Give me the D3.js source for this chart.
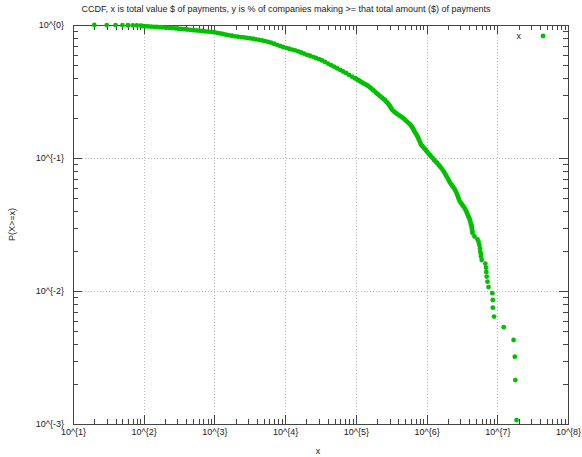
<!DOCTYPE html>
<html><head><meta charset="utf-8">
<script src="https://cdn.jsdelivr.net/npm/d3@7"></script>
<style>
body{margin:0;background:#fff}
svg{display:block}
text{font-family:"Liberation Sans",Arial,sans-serif;fill:#222}
</style>
</head><body>
<svg id="chart" width="582" height="457"></svg>
<script>
const chartTitle = "CCDF, x is total value $ of payments, y is % of companies making >= that total amount ($) of payments";
const xAxisLabel = "x";
const yAxisLabel = "P(X>=x)";
const legendLabel = "x";
const xTickValues = [1e1, 1e2, 1e3, 1e4, 1e5, 1e6, 1e7, 1e8];
const xTickLabels = ["10^{1}", "10^{2}", "10^{3}", "10^{4}", "10^{5}", "10^{6}", "10^{7}", "10^{8}"];
const yTickValues = [1e-3, 1e-2, 1e-1, 1];
const yTickLabels = ["10^{-3}", "10^{-2}", "10^{-1}", "10^{0}"];

// total payment value ($) per company
const paymentTotals = [
  20, 30, 40, 50, 60, 70, 80, 90,
  95, 104, 115, 127, 140, 154, 170, 187, 207, 228, 251, 277, 305, 337, 371, 409, 452, 498, 549, 605, 667, 736, 811, 895,
  986, 1088, 1199, 1321, 1459, 1607, 1771, 1954, 2153, 2377, 2618, 2891, 3184, 3516, 3873, 4266, 4710, 5188, 5728, 6310,
  6966, 7674, 8455, 9333, 10280, 11350, 12500, 13780, 15210, 16750, 18490, 20370, 22440, 24770, 27290, 30130, 33190, 36640, 40360, 44560, 49090, 54080, 59700, 65770, 72610, 79980, 88310, 97270,
  102000, 107400, 113000, 118300, 124000, 130400, 137000, 143900, 151000, 158500, 166500, 174900, 183500, 192800, 202500, 212400, 223000, 234400, 246000, 258300, 271500, 285100, 295000, 305300, 315500, 325800, 342000, 358100, 376000, 394500, 414000, 435500, 457000, 479700, 503000, 528400, 555000, 583400, 602000, 622300,
  643000, 664100, 686000, 709300, 733000, 756900, 775000, 794300, 814000, 834200, 869000, 905400, 943000, 982200, 1023000, 1066000, 1110000, 1157000, 1215000, 1276000, 1340000, 1407000, 1477000, 1550000, 1628000, 1710000, 1781000, 1854000, 1917000, 1982000, 2047000, 2113000, 2200000, 2291000, 2385000, 2484000, 2568000, 2655000, 2720000, 2786000, 2855000, 2926000, 3045000, 3170000, 3305000, 3443000, 3556000, 3673000, 3763000, 3855000, 3950000, 4047000, 4117000, 4188000, 4256000, 4325000, 4360000, 4395000, 4430000, 4467000, 4766000, 5260000, 5433000, 5572000, 5702000, 5755000, 5888000, 5888000, 6026000,
  6780000, 6930000, 7000000, 7080000, 7270000, 7510000, 8510000, 8630000, 8650000, 9000000, 12340000, 17000000, 17700000, 18000000, 18700000
];
// share of companies with total >= x
const shareAtLeast = [
  1, 0.999, 0.998, 0.997, 0.996, 0.995, 0.993, 0.99,
  0.983, 0.979, 0.976, 0.972, 0.969, 0.966, 0.962, 0.959, 0.956, 0.953, 0.949, 0.944, 0.939, 0.935, 0.930, 0.925, 0.920, 0.915, 0.911, 0.906, 0.901, 0.897, 0.892, 0.887,
  0.883, 0.874, 0.865, 0.856, 0.845, 0.837, 0.830, 0.822, 0.817, 0.811, 0.806, 0.800, 0.794, 0.788, 0.781, 0.774, 0.765, 0.756, 0.747, 0.736,
  0.723, 0.710, 0.696, 0.683, 0.673, 0.663, 0.654, 0.645, 0.634, 0.621, 0.610, 0.597, 0.587, 0.576, 0.565, 0.553, 0.542, 0.528, 0.513, 0.499, 0.487, 0.473, 0.460, 0.447, 0.436, 0.422, 0.409, 0.398,
  0.392, 0.386, 0.380, 0.374, 0.368, 0.363, 0.358, 0.353, 0.346, 0.339, 0.332, 0.325, 0.317, 0.310, 0.303, 0.296, 0.290, 0.284, 0.278, 0.272, 0.264, 0.257, 0.250, 0.244, 0.237, 0.231, 0.225, 0.220, 0.216, 0.212, 0.208, 0.205, 0.201, 0.197, 0.192, 0.188, 0.183, 0.179, 0.175, 0.171,
  0.166, 0.161, 0.156, 0.152, 0.147, 0.143, 0.138, 0.134, 0.130, 0.126, 0.123, 0.120, 0.117, 0.114, 0.111, 0.108, 0.1055, 0.103, 0.0998, 0.0966, 0.0941, 0.0917, 0.0890, 0.0863, 0.0834, 0.0805, 0.0778, 0.0752, 0.0729, 0.0707, 0.0683, 0.0660, 0.0640, 0.0621, 0.0603, 0.0585, 0.0565, 0.0545, 0.0527, 0.0509, 0.0492, 0.0475, 0.0461, 0.0447, 0.0434, 0.0421, 0.0407, 0.0393, 0.0381, 0.0370, 0.0359, 0.0348, 0.0337, 0.0327, 0.0317, 0.0308, 0.0299, 0.0290, 0.0281, 0.0273, 0.0257, 0.0244, 0.0234, 0.0222, 0.0209, 0.0197, 0.0189, 0.0182, 0.0171,
  0.01604, 0.01497, 0.0139, 0.01283, 0.01176, 0.0107, 0.00963, 0.00856, 0.00749, 0.00642, 0.00535, 0.00428, 0.00321, 0.00214, 0.00107
];

const W = 582, H = 457;
const m = {left: 73, right: 14, top: 25, bottom: 33};
const x0 = m.left, x1 = W - m.right, y0 = m.top, y1 = H - m.bottom;
const pointColor = "#00c000";
const svg = d3.select("#chart");

const x = d3.scaleLog().domain([xTickValues[0], xTickValues[xTickValues.length - 1]]).range([x0, x1]);
const y = d3.scaleLog().domain([yTickValues[0], yTickValues[yTickValues.length - 1]]).range([y1, y0]);

function minors(vals) {
  const out = [];
  for (let i = 0; i < vals.length - 1; i++) for (let k = 2; k <= 9; k++) out.push(vals[i] * k);
  return out;
}
const xMinor = minors(xTickValues), yMinor = minors(yTickValues);

// grid
const grid = svg.append("g").attr("stroke", "#b8b8b8").attr("stroke-width", 1).attr("stroke-dasharray", "1,2").attr("fill", "none");
xTickValues.slice(1, -1).forEach(v => grid.append("line").attr("x1", Math.round(x(v)) + 0.5).attr("x2", Math.round(x(v)) + 0.5).attr("y1", y0).attr("y2", y1));
yTickValues.slice(1, -1).forEach(v => grid.append("line").attr("y1", Math.round(y(v)) + 0.5).attr("y2", Math.round(y(v)) + 0.5).attr("x1", x0).attr("x2", x1));

function styleAxis(g) {
  g.select(".domain").remove();
  g.selectAll(".tick line").attr("stroke", "#444").attr("stroke-width", 1).attr("shape-rendering", "crispEdges");
  g.selectAll(".tick text").attr("font-size", 9).attr("fill", "#222").attr("font-family", "'Liberation Sans', Arial, sans-serif");
}
const xLab = d => xTickLabels[xTickValues.indexOf(d)];
const yLab = d => yTickLabels[yTickValues.indexOf(d)];

svg.append("g").attr("transform", `translate(0,${y1})`).call(d3.axisBottom(x).tickValues(xTickValues).tickSize(-9).tickPadding(5).tickFormat(xLab)).call(styleAxis);
svg.append("g").attr("transform", `translate(0,${y1})`).call(d3.axisBottom(x).tickValues(xMinor).tickSize(-5).tickFormat("")).call(styleAxis);
svg.append("g").attr("transform", `translate(0,${y0})`).call(d3.axisTop(x).tickValues(xTickValues).tickSize(-9).tickFormat("")).call(styleAxis);
svg.append("g").attr("transform", `translate(0,${y0})`).call(d3.axisTop(x).tickValues(xMinor).tickSize(-5).tickFormat("")).call(styleAxis);
svg.append("g").attr("transform", `translate(${x0},0)`).call(d3.axisLeft(y).tickValues(yTickValues).tickSize(-9).tickPadding(9).tickFormat(yLab)).call(styleAxis);
svg.append("g").attr("transform", `translate(${x0},0)`).call(d3.axisLeft(y).tickValues(yMinor).tickSize(-5).tickFormat("")).call(styleAxis);
svg.append("g").attr("transform", `translate(${x1},0)`).call(d3.axisRight(y).tickValues(yTickValues).tickSize(-9).tickFormat("")).call(styleAxis);
svg.append("g").attr("transform", `translate(${x1},0)`).call(d3.axisRight(y).tickValues(yMinor).tickSize(-5).tickFormat("")).call(styleAxis);

// border
svg.append("rect").attr("x", x0 + 0.5).attr("y", y0 + 0.5).attr("width", x1 - x0).attr("height", y1 - y0)
  .attr("fill", "none").attr("stroke", "#444").attr("stroke-width", 1);

// points
const pts = paymentTotals.map((v, i) => ({x: v, p: shareAtLeast[i]}));
svg.append("g").selectAll("circle").data(pts).join("circle")
  .attr("cx", d => x(d.x)).attr("cy", d => y(d.p)).attr("r", 2.4).attr("fill", pointColor);

// legend
svg.append("text").attr("x", 521).attr("y", 38.5).attr("text-anchor", "end").attr("font-size", 9).text(legendLabel);
svg.append("circle").attr("cx", 543).attr("cy", 36).attr("r", 2.4).attr("fill", pointColor);

// title and axis labels
svg.append("text").attr("x", 286).attr("y", 12).attr("text-anchor", "middle").attr("font-size", 9).text(chartTitle);
svg.append("text").attr("x", 318).attr("y", 454).attr("text-anchor", "middle").attr("font-size", 9).text(xAxisLabel);
svg.append("text").attr("transform", `translate(15,${(y0 + y1) / 2}) rotate(-90)`).attr("text-anchor", "middle").attr("font-size", 9).text(yAxisLabel);
</script>
</body></html>
